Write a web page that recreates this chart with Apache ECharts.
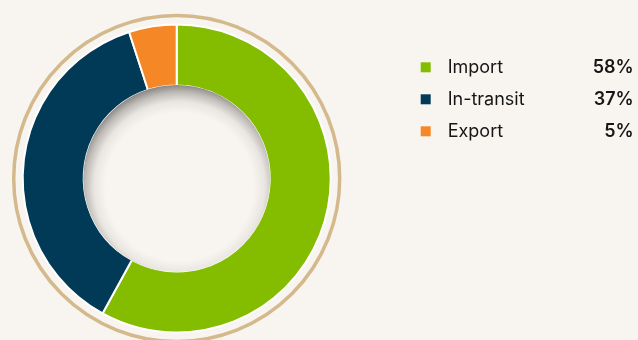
<!DOCTYPE html>
<html>
<head>
<meta charset="utf-8">
<script src="https://cdn.jsdelivr.net/npm/echarts@6/dist/echarts.min.js"></script>
<style>
html,body{margin:0;padding:0;background:#f8f5f0;}
#c{width:638px;height:340px;}
</style>
</head>
<body>
<div id="c"></div>
<script>
const categories = ['Import', 'In-transit', 'Export'];
const values = [58, 37, 5];
const colors = ['#84bc00', '#003a57', '#f58727'];

const CX = 176.7, CY = 178.5;
const chart = echarts.init(document.getElementById('c'), null, {renderer: 'canvas'});
const pctOf = {};
categories.forEach((c, i) => { pctOf[c] = values[i] + '%'; });

chart.setOption({
  backgroundColor: '#f8f5f0',
  animation: false,
  color: colors,
  legend: {
    orient: 'vertical',
    left: 415.7,
    top: 51.3,
    icon: 'rect',
    itemWidth: 10,
    itemHeight: 10,
    itemGap: 10,
    selectedMode: false,
    itemStyle: {borderWidth: 0},
    data: categories,
    formatter: function (name) { return '{n|' + name + '}{p|' + pctOf[name] + '}'; },
    textStyle: {
      fontFamily: 'Inter',
      fontSize: 18,
      color: '#161616',
      lineHeight: 22,
      rich: {
        n: {fontFamily: 'Inter', fontSize: 18, color: '#161616', width: 130, padding: [0, 0, 0, 12]},
        p: {fontFamily: 'Inter', fontSize: 18, fontWeight: 600, color: '#161616', width: 56, align: 'right'}
      }
    }
  },
  graphic: [
    {
      type: 'circle', z: 0, silent: true,
      shape: {cx: CX, cy: CY, r: 163},
      style: {fill: 'none', stroke: '#d4b98c', lineWidth: 3.5}
    },
    {
      type: 'circle', z: 100, silent: true,
      shape: {cx: CX, cy: CY, r: 93.5},
      style: {
        fill: {
          type: 'radial', x: 0.515, y: 0.545, r: 0.55, global: false,
          colorStops: [
            {offset: 0, color: '#f8f5f0'},
            {offset: 0.72, color: '#f8f5f0'},
            {offset: 0.83, color: '#e9e6e1'},
            {offset: 0.92, color: '#bebbb7'},
            {offset: 1, color: '#84817e'}
          ]
        }
      }
    }
  ],
  series: [{
    type: 'pie',
    center: [CX, CY],
    radius: [93, 154],
    startAngle: 90,
    clockwise: true,
    silent: true,
    label: {show: false},
    labelLine: {show: false},
    itemStyle: {borderColor: '#ffffff', borderWidth: 2},
    data: categories.map((c, i) => ({name: c, value: values[i]}))
  }]
});
</script>
</body>
</html>
